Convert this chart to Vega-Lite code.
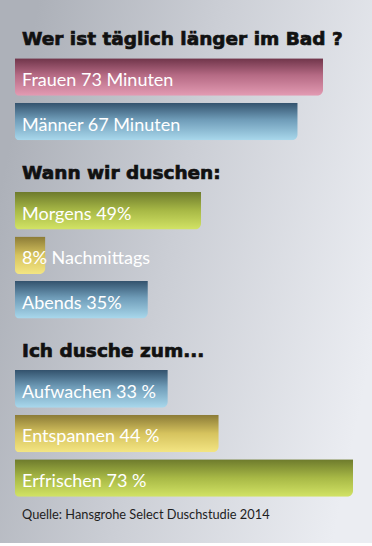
{
  "$schema": "https://vega.github.io/schema/vega-lite/v6.json",
  "width": 372,
  "height": 546,
  "autosize": {"type": "fit", "contains": "padding"},
  "padding": {"top": 0, "left": 0, "right": 0, "bottom": 3},
  "background": "#ffffff",
  "view": {
    "stroke": null,
    "fill": {"gradient": "linear", "x1": 0, "y1": 0.35, "x2": 1, "y2": 0.65,
      "stops": [{"offset": 0, "color": "#adb1b9"}, {"offset": 0.45, "color": "#cbced5"}, {"offset": 1, "color": "#ebedf2"}]}
  },
  "datasets": {
    "bars": [
      {"section": "Wer ist täglich länger im Bad ?", "label": "Frauen", "text": "Frauen 73 Minuten", "value": 73},
      {"section": "Wer ist täglich länger im Bad ?", "label": "Männer", "text": "Männer 67 Minuten", "value": 67},
      {"section": "Wann wir duschen:", "label": "Morgens", "text": "Morgens 49%", "value": 49},
      {"section": "Wann wir duschen:", "label": "Nachmittags", "text": "8% Nachmittags", "value": 8},
      {"section": "Wann wir duschen:", "label": "Abends", "text": "Abends 35%", "value": 35},
      {"section": "Ich dusche zum...", "label": "Aufwachen", "text": "Aufwachen 33 %", "value": 33},
      {"section": "Ich dusche zum...", "label": "Entspannen", "text": "Entspannen 44 %", "value": 44},
      {"section": "Ich dusche zum...", "label": "Erfrischen", "text": "Erfrischen 73 %", "value": 73}
    ],
    "headers": [
      {"section": "Wer ist täglich länger im Bad ?"},
      {"section": "Wann wir duschen:"},
      {"section": "Ich dusche zum..."}
    ],
    "source": [
      {"source": "Quelle: Hansgrohe Select Duschstudie 2014"}
    ]
  },
  "data": {"name": "bars"},
  "resolve": {"scale": {"x": "independent"}},
  "layer": [
    {
      "transform": [{"filter": {"field": "section", "equal": "Wer ist täglich länger im Bad ?"}}],
      "encoding": {
        "y": {"field": "label", "type": "nominal", "axis": null,
          "scale": {"domain": ["Wer ist täglich länger im Bad ?", "Frauen", "Männer", "Wann wir duschen:", "Morgens", "Nachmittags", "Abends", "Ich dusche zum...", "Aufwachen", "Entspannen", "Erfrischen", "Quelle: Hansgrohe Select Duschstudie 2014"], "paddingInner": 0.158, "paddingOuter": 0.172, "align": 0.89}},
        "x": {"field": "value", "type": "quantitative", "axis": null, "scale": {"domain": [-3.555, 84.61], "nice": false}}
      },
      "layer": [
        {
          "transform": [{"filter": {"field": "label", "equal": "Frauen"}}],
          "mark": {"type": "bar", "cornerRadiusBottomLeft": 4, "cornerRadiusBottomRight": 6,
            "fill": {"gradient": "linear", "x1": 0, "y1": 0, "x2": 0, "y2": 1,
              "stops": [{"offset": 0, "color": "#6f3449"}, {"offset": 0.45, "color": "#b56a84"}, {"offset": 1, "color": "#e39bb3"}]}}
        },
        {
          "transform": [{"filter": {"field": "label", "equal": "Männer"}}],
          "mark": {"type": "bar", "cornerRadiusBottomLeft": 4, "cornerRadiusBottomRight": 6,
            "fill": {"gradient": "linear", "x1": 0, "y1": 0, "x2": 0, "y2": 1,
              "stops": [{"offset": 0, "color": "#33526d"}, {"offset": 0.45, "color": "#6f9cb8"}, {"offset": 1, "color": "#a9d8ec"}]}}
        },
        {
          "mark": {"type": "text", "align": "left", "baseline": "alphabetic", "dx": 7, "dy": 9, "font": "Lato", "fontSize": 18, "color": "#ffffff"},
          "encoding": {"x": {"datum": 0, "type": "quantitative", "scale": {"domain": [-3.555, 84.61], "nice": false}}, "text": {"field": "text"}}
        }
      ]
    },
    {
      "transform": [{"filter": {"field": "section", "equal": "Wann wir duschen:"}}],
      "encoding": {
        "y": {"field": "label", "type": "nominal", "axis": null},
        "x": {"field": "value", "type": "quantitative", "axis": null, "scale": {"domain": [-3.952, 94.05], "nice": false}}
      },
      "layer": [
        {
          "transform": [{"filter": {"field": "label", "equal": "Morgens"}}],
          "mark": {"type": "bar", "cornerRadiusBottomLeft": 4, "cornerRadiusBottomRight": 6,
            "fill": {"gradient": "linear", "x1": 0, "y1": 0, "x2": 0, "y2": 1,
              "stops": [{"offset": 0, "color": "#6d7a2c"}, {"offset": 0.5, "color": "#a8b946"}, {"offset": 1, "color": "#d2e365"}]}}
        },
        {
          "transform": [{"filter": {"field": "label", "equal": "Nachmittags"}}],
          "mark": {"type": "bar", "cornerRadiusBottomLeft": 4, "cornerRadiusBottomRight": 6,
            "fill": {"gradient": "linear", "x1": 0, "y1": 0, "x2": 0, "y2": 1,
              "stops": [{"offset": 0, "color": "#8a7a36"}, {"offset": 0.5, "color": "#d6c35e"}, {"offset": 1, "color": "#f3e583"}]}}
        },
        {
          "transform": [{"filter": {"field": "label", "equal": "Abends"}}],
          "mark": {"type": "bar", "cornerRadiusBottomLeft": 4, "cornerRadiusBottomRight": 6,
            "fill": {"gradient": "linear", "x1": 0, "y1": 0, "x2": 0, "y2": 1,
              "stops": [{"offset": 0, "color": "#33526d"}, {"offset": 0.45, "color": "#6f9cb8"}, {"offset": 1, "color": "#a9d8ec"}]}}
        },
        {
          "mark": {"type": "text", "align": "left", "baseline": "alphabetic", "dx": 7, "dy": 9, "font": "Lato", "fontSize": 18, "color": "#ffffff"},
          "encoding": {"x": {"datum": 0, "type": "quantitative", "scale": {"domain": [-3.952, 94.05], "nice": false}}, "text": {"field": "text"}}
        }
      ]
    },
    {
      "transform": [{"filter": {"field": "section", "equal": "Ich dusche zum..."}}],
      "encoding": {
        "y": {"field": "label", "type": "nominal", "axis": null},
        "x": {"field": "value", "type": "quantitative", "axis": null, "scale": {"domain": [-3.24, 77.1], "nice": false}}
      },
      "layer": [
        {
          "transform": [{"filter": {"field": "label", "equal": "Aufwachen"}}],
          "mark": {"type": "bar", "cornerRadiusBottomLeft": 4, "cornerRadiusBottomRight": 6,
            "fill": {"gradient": "linear", "x1": 0, "y1": 0, "x2": 0, "y2": 1,
              "stops": [{"offset": 0, "color": "#33526d"}, {"offset": 0.45, "color": "#6f9cb8"}, {"offset": 1, "color": "#a9d8ec"}]}}
        },
        {
          "transform": [{"filter": {"field": "label", "equal": "Entspannen"}}],
          "mark": {"type": "bar", "cornerRadiusBottomLeft": 4, "cornerRadiusBottomRight": 6,
            "fill": {"gradient": "linear", "x1": 0, "y1": 0, "x2": 0, "y2": 1,
              "stops": [{"offset": 0, "color": "#8a7a36"}, {"offset": 0.5, "color": "#d6c35e"}, {"offset": 1, "color": "#f3e583"}]}}
        },
        {
          "transform": [{"filter": {"field": "label", "equal": "Erfrischen"}}],
          "mark": {"type": "bar", "cornerRadiusBottomLeft": 4, "cornerRadiusBottomRight": 6,
            "fill": {"gradient": "linear", "x1": 0, "y1": 0, "x2": 0, "y2": 1,
              "stops": [{"offset": 0, "color": "#6d7a2c"}, {"offset": 0.5, "color": "#a8b946"}, {"offset": 1, "color": "#d2e365"}]}}
        },
        {
          "mark": {"type": "text", "align": "left", "baseline": "alphabetic", "dx": 7, "dy": 9, "font": "Lato", "fontSize": 18, "color": "#ffffff"},
          "encoding": {"x": {"datum": 0, "type": "quantitative", "scale": {"domain": [-3.24, 77.1], "nice": false}}, "text": {"field": "text"}}
        }
      ]
    },
    {
      "data": {"name": "headers"},
      "mark": {"type": "text", "align": "left", "baseline": "alphabetic", "dx": 7, "dy": 13, "font": "DejaVu Sans", "fontWeight": "bold", "fontSize": 18.5, "fill": "#111111", "stroke": "#111111", "strokeWidth": 0.7},
      "encoding": {
        "x": {"datum": 0, "type": "quantitative", "axis": null, "scale": {"domain": [-3.555, 84.61], "nice": false}},
        "y": {"field": "section", "type": "nominal", "axis": null},
        "text": {"field": "section"}
      }
    },
    {
      "data": {"name": "source"},
      "mark": {"type": "text", "align": "left", "baseline": "alphabetic", "dx": 7, "dy": -4, "font": "Lato", "fontSize": 12.8, "color": "#1e1e1e"},
      "encoding": {
        "x": {"datum": 0, "type": "quantitative", "axis": null, "scale": {"domain": [-3.555, 84.61], "nice": false}},
        "y": {"field": "source", "type": "nominal", "axis": null},
        "text": {"field": "source"}
      }
    }
  ]
}
